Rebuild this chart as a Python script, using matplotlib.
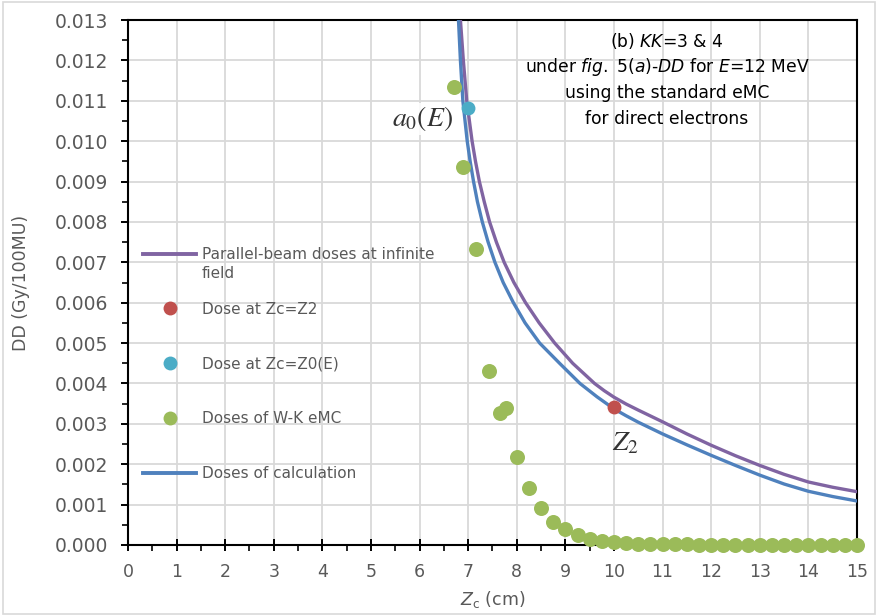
import matplotlib
matplotlib.use("Agg")
import matplotlib.pyplot as plt
from matplotlib.lines import Line2D
from matplotlib.patches import Rectangle

plt.rcParams['font.family'] = ['DejaVu Sans']
plt.rcParams['mathtext.fontset'] = 'custom'
plt.rcParams['mathtext.rm'] = 'DejaVu Sans'
plt.rcParams['mathtext.it'] = 'DejaVu Sans:italic'

# ---- data (y values in Gy/100MU) ----
parallel_x = [6.84, 6.90, 6.97, 7.08, 7.15, 7.23, 7.33, 7.44, 7.58, 7.74, 7.94, 8.18, 8.46,
              8.78, 9.15, 9.60, 9.80, 10.0, 10.25, 10.5, 11.0, 11.5, 12.0, 12.5, 13.0, 13.5,
              14.0, 14.5, 15.0]
parallel_y = [0.0130, 0.0120, 0.0110, 0.0100, 0.0095, 0.0090, 0.0085, 0.0080, 0.0075, 0.0070,
              0.0065, 0.0060, 0.0055, 0.0050, 0.0045, 0.0040, 0.00382, 0.00366, 0.00349,
              0.00334, 0.00305, 0.00275, 0.00247, 0.00221, 0.00197, 0.00175, 0.00156,
              0.00143, 0.00132]

calc_x = [6.80, 6.84, 6.89, 6.98, 7.04, 7.11, 7.19, 7.29, 7.41, 7.55, 7.72, 7.93, 8.17,
          8.47, 8.88, 9.30, 9.65, 10.0, 10.25, 10.5, 11.0, 11.5, 12.0, 12.5, 13.0, 13.5, 14.0,
          14.5, 15.0]
calc_y = [0.0130, 0.0120, 0.0110, 0.0100, 0.0095, 0.0090, 0.0085, 0.0080, 0.0075, 0.0070,
          0.0065, 0.0060, 0.0055, 0.0050, 0.0045, 0.0040, 0.00367, 0.00337, 0.00320,
          0.00304, 0.00275, 0.00248, 0.00222, 0.00197, 0.00173, 0.00151, 0.00133, 0.00120,
          0.00109]

wk_x = [6.70, 6.90, 7.17, 7.43, 7.65, 7.77, 8.00, 8.25, 8.50, 8.75, 9.00, 9.25, 9.50, 9.75,
        10.00, 10.25, 10.50, 10.75, 11.00, 11.25, 11.50, 11.75, 12.00, 12.25, 12.50, 12.75,
        13.00, 13.25, 13.50, 13.75, 14.00, 14.25, 14.50, 14.75, 15.00]
wk_y = [0.01135, 0.00935, 0.00732, 0.00432, 0.00326, 0.00340, 0.00219, 0.00142, 0.00092, 0.00057,
        0.00040, 0.00025, 0.00016, 0.00010, 0.00007, 0.00004, 0.00003, 0.00002, 0.00002, 0.00002,
        0.00002, 0.00001, 0.00001, 0.00001, 0.00001, 0.00001, 0.00001, 0.00001, 0.00001, 0.00001,
        0.00001, 0.00001, 0.00001, 0.00001, 0.00001]

z2_x = [10.0]
z2_y = [0.00341]
z0_x = [7.0]
z0_y = [0.01082]

x_ticks = list(range(0, 16))
y_ticks = [i * 0.001 for i in range(0, 14)]

PURPLE = '#8064A2'
BLUE = '#4F81BD'
GREEN = '#9BBB59'
RED = '#C0504D'
CYAN = '#4BACC6'
GREY = '#595959'
GRID = '#D9D9D9'

fig = plt.figure(figsize=(8.78, 6.16), dpi=100)
fig.patches.append(Rectangle((0.003, 0.003), 0.994, 0.994, transform=fig.transFigure,
                             fill=False, edgecolor=GRID, linewidth=1.2))
ax = fig.add_axes([128 / 878, 1 - 545 / 616, (857 - 128) / 878, (545 - 20) / 616])

ax.plot(parallel_x, parallel_y, color=PURPLE, lw=2.4, zorder=3, solid_joinstyle='round')
ax.plot(calc_x, calc_y, color=BLUE, lw=2.4, zorder=3, solid_joinstyle='round')
ax.plot(wk_x, wk_y, 'o', color=GREEN, ms=10.8, mec='none', zorder=4, clip_on=False)
ax.plot(z2_x, z2_y, 'o', color=RED, ms=10, mec='none', zorder=5)
ax.plot(z0_x, z0_y, 'o', color=CYAN, ms=10, mec='none', zorder=5)

ax.set_xlim(0, 15)
ax.set_ylim(0, 0.013)
ax.set_xticks(x_ticks)
ax.set_xticks([x + 0.5 for x in x_ticks[:-1]], minor=True)
ax.set_yticks(y_ticks)
ax.set_yticks([y + 0.0005 for y in y_ticks[:-1]], minor=True)
ax.set_yticklabels([f'{v:.3f}' for v in y_ticks])
ax.set_xticklabels([str(v) for v in x_ticks])
ax.grid(True, which='major', color=GRID, lw=1.3, zorder=0)
ax.set_axisbelow(True)
for s in ax.spines.values():
    s.set_color('black')
    s.set_linewidth(1.5)
ax.tick_params(axis='x', which='major', direction='inout', length=8, width=1.4,
               colors='black', labelcolor=GREY, labelsize=12.5, pad=9)
ax.tick_params(axis='y', which='major', direction='out', length=5, width=1.4,
               colors='black', labelcolor=GREY, labelsize=13.5, pad=9)
ax.tick_params(axis='both', which='minor', direction='out', length=4, width=1.2, colors='black')
ax.tick_params(top=False, right=False, which='both')

ax.set_xlabel(r'$Z_\mathrm{c}$ (cm)', fontsize=12.5, color=GREY, labelpad=6)
ax.set_ylabel('DD (Gy/100MU)', fontsize=12.5, color=GREY, labelpad=18)

# legend
handles = [
    Line2D([], [], color=PURPLE, lw=2.8),
    Line2D([], [], ls='none', marker='o', color=RED, ms=10, mec='none'),
    Line2D([], [], ls='none', marker='o', color=CYAN, ms=10, mec='none'),
    Line2D([], [], ls='none', marker='o', color=GREEN, ms=10, mec='none'),
    Line2D([], [], color=BLUE, lw=2.8),
]
labels = ['Parallel-beam doses at infinite', 'Dose at Zc=Z2', 'Dose at Zc=Z0(E)',
          'Doses of W-K eMC', 'Doses of calculation']
leg = ax.legend(handles, labels, loc='upper left',
                bbox_to_anchor=((143 - 128) / 729, 1 - (247 - 20) / 525),
                frameon=False, fontsize=11, labelcolor=GREY, borderpad=0, borderaxespad=0,
                handlelength=3.5, handletextpad=0.35, labelspacing=2.6)
ax.text((202 - 128) / 729, 1 - (274 - 20) / 525, 'field', transform=ax.transAxes,
        fontsize=11, color=GREY, ha='left', va='center')

# annotations
ax.text(6.05, 0.01055, r'$a_0(E)$', fontsize=20, color='#333333', ha='center', va='center',
        math_fontfamily='stix', zorder=6,
        bbox=dict(boxstyle='square,pad=0.05', facecolor='white', edgecolor='none', alpha=0.85))
ax.text(10.23, 0.00255, r'$Z_2$', fontsize=20, color='#333333', ha='center', va='center',
        math_fontfamily='stix', zorder=6)

lines = [r'(b) $\mathit{KK}$=3 & 4',
         r'under $\mathit{fig.\ 5(a)}$-$\mathit{DD}$ for $\mathit{E}$=12 MeV',
         'using the standard eMC',
         'for direct electrons']
for i, t in enumerate(lines):
    ax.text((667 - 128) / 729, 1 - (41 + 26 * i - 20) / 525, t, transform=ax.transAxes,
            fontsize=12.3, color='black', ha='center', va='center')

fig.savefig('out.png', dpi=100)
